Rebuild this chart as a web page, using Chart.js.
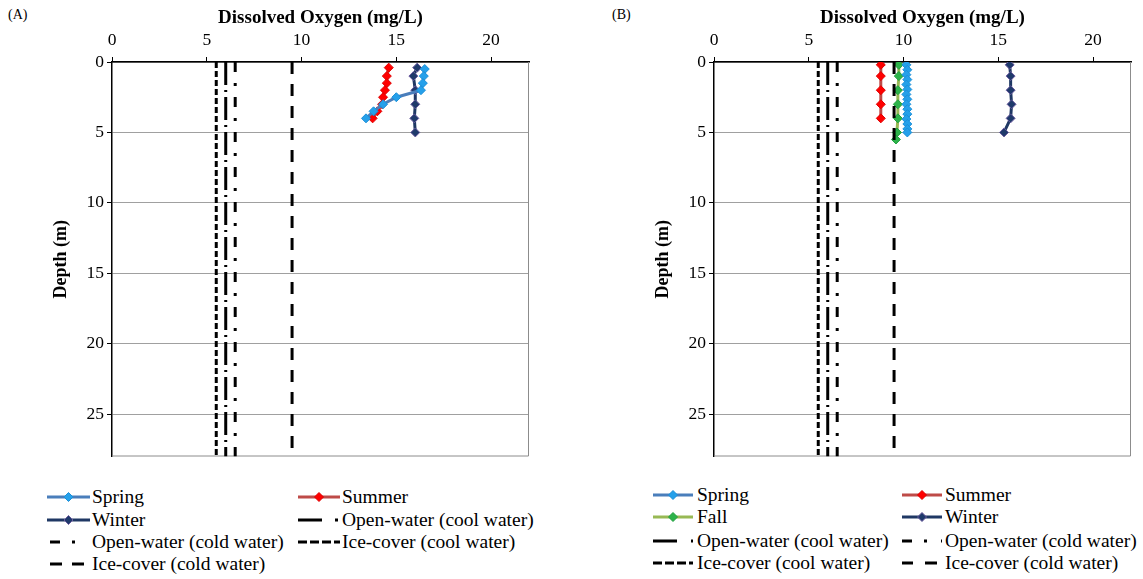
<!DOCTYPE html>
<html>
<head>
<meta charset="utf-8">
<script src="https://cdn.jsdelivr.net/npm/chart.js@4.4.1/dist/chart.umd.min.js"></script>
<style>
  body { margin: 0; background: #fff; width: 1143px; height: 579px; overflow: hidden; position: relative; font-family: 'Liberation Serif', 'Times New Roman', serif; }
  .panel { position: absolute; top: 0; }
  .tag { position: absolute; top: 7px; font-size: 14px; }
  .leg { position: absolute; height: 22px; line-height: 22px; font-size: 19.5px; white-space: nowrap; }
  .leg svg { position: absolute; left: 0; top: 0; }
  .leg span { position: absolute; top: 0; }
</style>
</head>
<body>
<div class="tag" style="left:8px">(A)</div>
<div class="tag" style="left:612px">(B)</div>
<div class="panel" style="left:0px"><canvas id="chartA" width="571" height="470"></canvas></div>
<div class="panel" style="left:571px"><canvas id="chartB" width="572" height="470"></canvas></div>
<div id="legends"></div>
<script>
'use strict';

// axis ticks
var doTicks = [0, 5, 10, 15, 20];
var depthTicks = [0, 5, 10, 15, 20, 25];
var doMax = 22;
var depthMax = 28;

// criteria lines (mg/L)
var criteriaNames = ['Open-water (cool water)', 'Open-water (cold water)', 'Ice-cover (cool water)', 'Ice-cover (cold water)'];
var criteriaValues = [6.0, 6.5, 5.5, 9.5];

// panel A profiles
var springDepthA = [0.5, 1, 1.5, 2, 2.5, 3, 3.5, 4];
var springDoA = [16.5, 16.45, 16.4, 16.3, 15.0, 14.3, 13.8, 13.4];
var summerDepthA = [0.4, 1, 1.5, 2, 2.5, 3, 3.5, 4];
var summerDoA = [14.6, 14.5, 14.5, 14.4, 14.3, 14.25, 14.0, 13.75];
var winterDepthA = [0.4, 1, 2, 3, 4, 5];
var winterDoA = [16.1, 15.9, 16.0, 16.0, 15.95, 16.0];

// panel B profiles
var springDepthB = [0.2, 0.55, 0.9, 1.25, 1.6, 1.95, 2.3, 2.65, 3.0, 3.35, 3.7, 4.05, 4.4, 4.75, 5.0];
var springDoB = [10.15, 10.2, 10.15, 10.2, 10.15, 10.2, 10.15, 10.2, 10.15, 10.2, 10.2, 10.15, 10.2, 10.2, 10.2];
var summerDepthB = [0.2, 1, 2, 3, 4];
var summerDoB = [8.8, 8.8, 8.8, 8.8, 8.8];
var fallDepthB = [0.2, 1, 2, 3, 4, 5, 5.5];
var fallDoB = [9.75, 9.75, 9.7, 9.7, 9.7, 9.65, 9.6];
var winterDepthB = [0.2, 1, 2, 3, 4, 5];
var winterDoB = [15.6, 15.65, 15.65, 15.7, 15.65, 15.3];

var serif = "'Liberation Serif', 'Times New Roman', serif";

var seasonStyle = {
  Spring: { line: '#4a7ebb', fill: '#25a0ea', edge: '#1b8fd8' },
  Summer: { line: '#be4b48', fill: '#ff0000', edge: '#e00000' },
  Fall:   { line: '#98b954', fill: '#2db34a', edge: '#22a040' },
  Winter: { line: '#1f3864', fill: '#1f3a6b', edge: '#6a5a9e' }
};
var criteriaDash = [[23, 5, 2, 5], [10, 11, 3, 11], [6, 3], [12, 10]];

function profile(name, depths, values) {
  var st = seasonStyle[name];
  return {
    label: name,
    data: depths.map(function(d, i) { return { x: values[i], y: d }; }),
    showLine: true,
    borderColor: st.line,
    borderWidth: 3,
    pointStyle: 'rectRot',
    pointRadius: 4.5,
    pointBackgroundColor: st.fill,
    pointBorderColor: st.edge,
    pointBorderWidth: 1
  };
}

function criteriaSets() {
  return criteriaValues.map(function(v, i) {
    return {
      label: criteriaNames[i],
      data: [{ x: v, y: 0 }, { x: v, y: depthMax }],
      showLine: true,
      borderColor: '#000',
      borderWidth: 3,
      borderDash: criteriaDash[i],
      pointRadius: 0
    };
  });
}

var frame = {
  id: 'frame',
  beforeDatasetsDraw: function(chart) {
    var a = chart.chartArea, ctx = chart.ctx;
    ctx.save();
    ctx.strokeStyle = '#8c8c8c';
    ctx.lineWidth = 1;
    ctx.beginPath();
    ctx.moveTo(a.right - 0.5, a.top);
    ctx.lineTo(a.right - 0.5, a.bottom - 0.5);
    ctx.lineTo(a.left, a.bottom - 0.5);
    ctx.stroke();
    ctx.restore();
  }
};

function makePanel(id, series, padLeft, padRight) {
  return new Chart(document.getElementById(id), {
    type: 'scatter',
    data: { datasets: criteriaSets().concat(series) },
    plugins: [frame],
    options: {
      responsive: false,
      animation: false,
      layout: { padding: { left: padLeft, right: padRight, top: 0, bottom: 10 } },
      plugins: { legend: { display: false }, tooltip: { enabled: false } },
      scales: {
        x: {
          type: 'linear',
          position: 'top',
          min: 0,
          max: doMax,
          afterFit: function(s) { s.height = 62; },
          afterBuildTicks: function(s) { s.ticks = doTicks.map(function(v) { return { value: v }; }); },
          ticks: { font: { family: serif, size: 17.5 }, color: '#000', padding: 6 },
          grid: { drawOnChartArea: false, drawTicks: true, tickLength: 5, tickColor: '#000', tickWidth: 1 },
          border: { color: '#000', width: 1.5 },
          title: { display: true, text: 'Dissolved Oxygen (mg/L)', color: '#000', font: { family: serif, size: 19, weight: 'bold' }, padding: { top: 7, bottom: 0 } }
        },
        y: {
          type: 'linear',
          reverse: true,
          min: 0,
          max: depthMax,
          afterFit: function(s) { s.width = 61; },
          afterBuildTicks: function(s) { s.ticks = depthTicks.map(function(v) { return { value: v }; }); },
          ticks: { font: { family: serif, size: 17.5 }, color: '#000', padding: 3 },
          grid: { color: '#a0a0a0', lineWidth: 1, drawTicks: true, tickLength: 5, tickColor: '#000' },
          border: { color: '#000', width: 1.5 },
          title: { display: true, text: 'Depth (m)', color: '#000', font: { family: serif, size: 18, weight: 'bold' }, padding: { top: 0, bottom: 0 } }
        }
      }
    }
  });
}

makePanel('chartA', [
  profile('Spring', springDepthA, springDoA),
  profile('Summer', summerDepthA, summerDoA),
  profile('Winter', winterDepthA, winterDoA)
], 51, 42);

makePanel('chartB', [
  profile('Spring', springDepthB, springDoB),
  profile('Summer', summerDepthB, summerDoB),
  profile('Fall', fallDepthB, fallDoB),
  profile('Winter', winterDepthB, winterDoB)
], 82, 12);

// html legends
var legendA = [
  { x: 47, y: 497, w: 43, tx: 92, name: 'Spring' },
  { x: 298, y: 497, w: 42, tx: 342, name: 'Summer' },
  { x: 47, y: 520, w: 43, tx: 92, name: 'Winter' },
  { x: 298, y: 520, w: 42, tx: 342, name: criteriaNames[0], dash: '24 13 3 100' },
  { x: 47, y: 542, w: 43, tx: 92, name: criteriaNames[1], dash: '0 3 10 12 3 100' },
  { x: 298, y: 542, w: 42, tx: 342, name: criteriaNames[2], dash: '9 3' },
  { x: 47, y: 564, w: 43, tx: 92, name: criteriaNames[3], dash: '0 3 12 10 12 100' }
];
var legendB = [
  { x: 653, y: 495, w: 40, tx: 697, name: 'Spring' },
  { x: 902, y: 495, w: 40, tx: 945, name: 'Summer' },
  { x: 653, y: 517, w: 40, tx: 697, name: 'Fall' },
  { x: 902, y: 517, w: 40, tx: 945, name: 'Winter' },
  { x: 653, y: 541, w: 40, tx: 697, name: criteriaNames[0], dash: '24 14 3 100' },
  { x: 902, y: 541, w: 40, tx: 945, name: criteriaNames[1], dash: '10 12 3 14 3 100' },
  { x: 653, y: 563, w: 40, tx: 697, name: criteriaNames[2], dash: '9 3' },
  { x: 902, y: 563, w: 40, tx: 945, name: criteriaNames[3], dash: '11 12 12 100' }
];

function drawLegend(items) {
  var host = document.getElementById('legends');
  items.forEach(function(it) {
    var d = document.createElement('div');
    d.className = 'leg';
    d.style.left = it.x + 'px';
    d.style.top = (it.y - 11) + 'px';
    var svg;
    if (it.dash) {
      svg = '<svg width="' + it.w + '" height="22"><line x1="0" y1="11" x2="' + it.w + '" y2="11" stroke="#000" stroke-width="3" stroke-dasharray="' + it.dash + '"/></svg>';
    } else {
      var st = seasonStyle[it.name];
      var c = it.w / 2;
      svg = '<svg width="' + it.w + '" height="22"><line x1="0" y1="11" x2="' + it.w + '" y2="11" stroke="' + st.line + '" stroke-width="3"/>' +
        '<polygon points="' + c + ',6.5 ' + (c + 4.5) + ',11 ' + c + ',15.5 ' + (c - 4.5) + ',11" fill="' + st.fill + '" stroke="' + st.edge + '" stroke-width="1"/></svg>';
    }
    d.innerHTML = svg + '<span style="left:' + (it.tx - it.x) + 'px">' + it.name + '</span>';
    host.appendChild(d);
  });
}
drawLegend(legendA);
drawLegend(legendB);
</script>
</body>
</html>
